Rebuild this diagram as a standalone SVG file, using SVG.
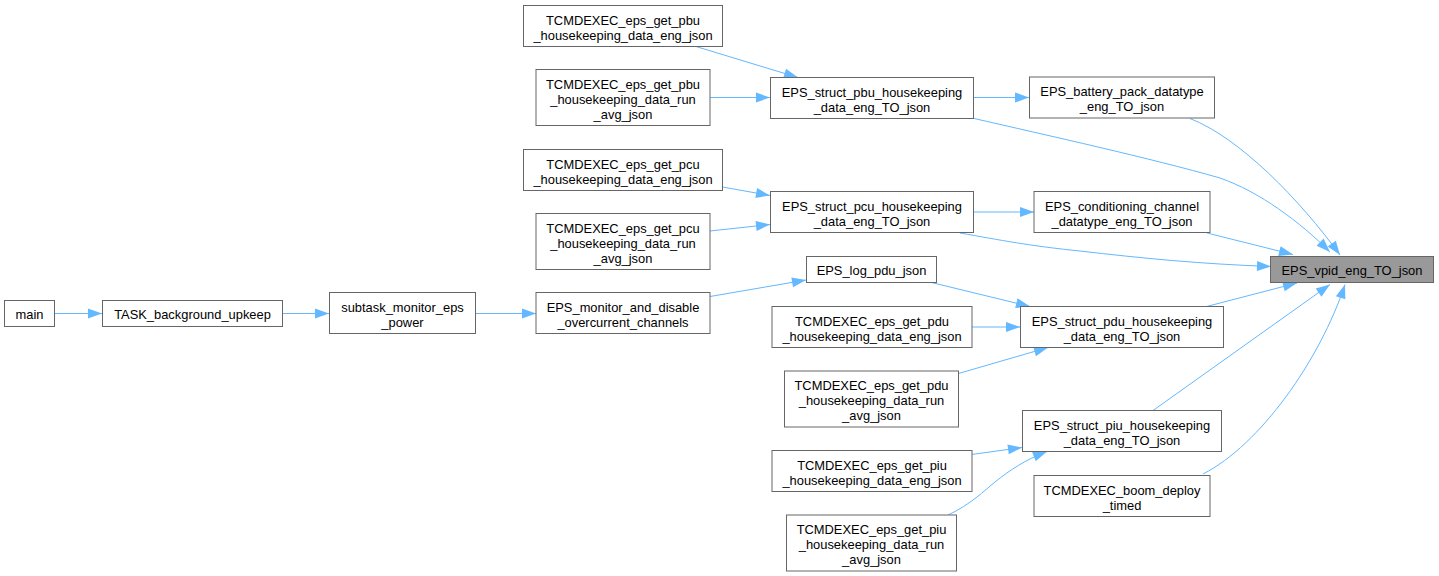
<svg xmlns="http://www.w3.org/2000/svg" width="1439" height="576" viewBox="0 0 1439 576">
<style>
.n rect{fill:#ffffff;stroke:#666666;stroke-width:1}
.n.h rect{fill:#999999}
.n text{font-family:"Liberation Sans",Arial,Helvetica,sans-serif;font-size:12.9px;fill:#000000;text-anchor:middle}
.e path{fill:none;stroke:#63b8ff;stroke-width:1;marker-end:url(#ah)}
</style>
<defs>
<marker id="ah" markerUnits="userSpaceOnUse" markerWidth="15" markerHeight="11" refX="14" refY="5" orient="auto" overflow="visible">
<path d="M0,0 L14,5 L0,10 Z" fill="#63b8ff" stroke="none"/>
</marker>
</defs>
<rect width="1439" height="576" fill="#ffffff"/>
<g id="edges" class="e">
<path d="M55,313.5 L102,313.5"/>
<path d="M283,313.5 L329,313.5"/>
<path d="M476,313.5 L536,313.5"/>
<path d="M710,296.5 L806,280"/>
<path d="M696,46.5 L798,77.5"/>
<path d="M710,97.5 L770,97.5"/>
<path d="M722.5,187 L770,195.5"/>
<path d="M710,231 L770,224.5"/>
<path d="M973.5,97.5 L1029,97.5"/>
<path d="M973.5,212 L1034,212"/>
<path d="M972,118 C1050,136 1150,158 1220,178 C1260,192 1300,222 1330,252"/>
<path d="M1190,118.5 C1240,138 1300,200 1340,255"/>
<path d="M1207,233 L1293,254.5"/>
<path d="M960,233 C1000,240 1030,246 1080,251 C1140,258 1200,264 1271,266.5"/>
<path d="M931.5,282.5 L1030,306.5"/>
<path d="M972,327 L1020,327"/>
<path d="M958.5,373.5 L1048,347.5"/>
<path d="M1206.5,306.5 L1297,283"/>
<path d="M1153,410.5 L1330,284.5"/>
<path d="M971.5,454.5 L1022,447.5"/>
<path d="M948,515 C970,505 985,490 995,482 C1010,470 1025,460 1047,451.5"/>
<path d="M1203,474 C1260,445 1320,360 1345,284.5"/>
</g>
<g id="main" class="n"><rect x="4.5" y="300.5" width="50" height="26"/><text x="29.5" y="318.5">main</text></g>
<g id="task_background_upkeep" class="n"><rect x="102.5" y="300.5" width="180" height="26"/><text x="192.5" y="318.5">TASK_background_upkeep</text></g>
<g id="subtask_monitor_eps_power" class="n"><rect x="329.5" y="292.5" width="146" height="41"/><text x="402.5" y="311.5">subtask_monitor_eps<tspan x="402.5" dy="15">_power</tspan></text></g>
<g id="eps_monitor" class="n"><rect x="536" y="292.5" width="174" height="41"/><text x="623" y="311.5">EPS_monitor_and_disable<tspan x="623" dy="15">_overcurrent_channels</tspan></text></g>
<g id="pbu_eng" class="n"><rect x="523.5" y="5.5" width="199" height="41"/><text x="623" y="24.5">TCMDEXEC_eps_get_pbu<tspan x="623" dy="15">_housekeeping_data_eng_json</tspan></text></g>
<g id="pbu_run" class="n"><rect x="536" y="69.5" width="174" height="56"/><text x="623" y="88.5">TCMDEXEC_eps_get_pbu<tspan x="623" dy="15">_housekeeping_data_run</tspan><tspan x="623" dy="15">_avg_json</tspan></text></g>
<g id="struct_pbu" class="n"><rect x="770.5" y="77.5" width="203" height="41"/><text x="872" y="96.5">EPS_struct_pbu_housekeeping<tspan x="872" dy="15">_data_eng_TO_json</tspan></text></g>
<g id="pcu_eng" class="n"><rect x="523.5" y="149.5" width="199" height="41"/><text x="623" y="168.5">TCMDEXEC_eps_get_pcu<tspan x="623" dy="15">_housekeeping_data_eng_json</tspan></text></g>
<g id="pcu_run" class="n"><rect x="536" y="213.5" width="174" height="56"/><text x="623" y="232.5">TCMDEXEC_eps_get_pcu<tspan x="623" dy="15">_housekeeping_data_run</tspan><tspan x="623" dy="15">_avg_json</tspan></text></g>
<g id="struct_pcu" class="n"><rect x="770.5" y="191.5" width="203" height="41"/><text x="872" y="210.5">EPS_struct_pcu_housekeeping<tspan x="872" dy="15">_data_eng_TO_json</tspan></text></g>
<g id="log_pdu" class="n"><rect x="806.5" y="256.5" width="130" height="26"/><text x="871.5" y="274.5">EPS_log_pdu_json</text></g>
<g id="pdu_eng" class="n"><rect x="772" y="306.5" width="200" height="41"/><text x="872" y="325.5">TCMDEXEC_eps_get_pdu<tspan x="872" dy="15">_housekeeping_data_eng_json</tspan></text></g>
<g id="pdu_run" class="n"><rect x="784.5" y="371" width="174" height="56"/><text x="871.5" y="390">TCMDEXEC_eps_get_pdu<tspan x="871.5" dy="15">_housekeeping_data_run</tspan><tspan x="871.5" dy="15">_avg_json</tspan></text></g>
<g id="piu_eng" class="n"><rect x="772" y="450.5" width="200" height="41"/><text x="872" y="469.5">TCMDEXEC_eps_get_piu<tspan x="872" dy="15">_housekeeping_data_eng_json</tspan></text></g>
<g id="piu_run" class="n"><rect x="786.5" y="515" width="170" height="56"/><text x="871.5" y="534">TCMDEXEC_eps_get_piu<tspan x="871.5" dy="15">_housekeeping_data_run</tspan><tspan x="871.5" dy="15">_avg_json</tspan></text></g>
<g id="struct_pdu" class="n"><rect x="1020.5" y="306.5" width="203" height="41"/><text x="1122" y="325.5">EPS_struct_pdu_housekeeping<tspan x="1122" dy="15">_data_eng_TO_json</tspan></text></g>
<g id="struct_piu" class="n"><rect x="1022.5" y="410.5" width="199" height="41"/><text x="1122" y="429.5">EPS_struct_piu_housekeeping<tspan x="1122" dy="15">_data_eng_TO_json</tspan></text></g>
<g id="boom_deploy" class="n"><rect x="1034" y="475.5" width="176" height="41"/><text x="1122" y="494.5">TCMDEXEC_boom_deploy<tspan x="1122" dy="15">_timed</tspan></text></g>
<g id="battery_pack" class="n"><rect x="1029.5" y="77" width="185" height="41"/><text x="1122" y="96">EPS_battery_pack_datatype<tspan x="1122" dy="15">_eng_TO_json</tspan></text></g>
<g id="conditioning" class="n"><rect x="1034" y="191.5" width="176" height="41"/><text x="1122" y="210.5">EPS_conditioning_channel<tspan x="1122" dy="15">_datatype_eng_TO_json</tspan></text></g>
<g id="vpid" class="n h"><rect x="1270.5" y="256.5" width="163" height="26"/><text x="1352" y="274.5">EPS_vpid_eng_TO_json</text></g>
</svg>
